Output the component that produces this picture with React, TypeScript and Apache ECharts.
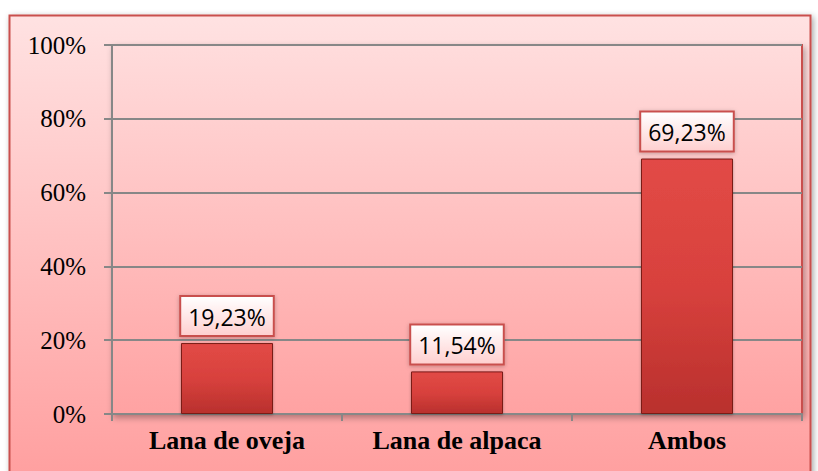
import React, { useEffect, useRef } from "react";
import * as echarts from "echarts";

const categories = ["Lana de oveja", "Lana de alpaca", "Ambos"];
const values = [0.1923, 0.1154, 0.6923];
const yTicks = [0, 0.2, 0.4, 0.6, 0.8, 1];

export default function App() {
  const ref = useRef<HTMLDivElement>(null);
  useEffect(() => {
    const chart = echarts.init(ref.current!, null, { renderer: "svg" });
    chart.setOption({
      animation: false,
      backgroundColor: "#ffffff",
      graphic: [
        {
          type: "rect",
          z: -10,
          shape: { x: 9.5, y: 15.5, width: 801, height: 470 },
          style: {
            fill: new echarts.graphic.LinearGradient(0, 0, 0, 1, [
              { offset: 0, color: "#FFE2E2" },
              { offset: 1, color: "#FF9E9E" },
            ]),
            stroke: "#C9504D",
            lineWidth: 2,
            shadowBlur: 6,
            shadowColor: "rgba(0,0,0,0.35)",
            shadowOffsetX: 2,
            shadowOffsetY: 2,
          },
        },
      ],
      grid: {
        left: 112,
        right: 16,
        top: 45,
        bottom: 57,
        show: true,
        backgroundColor: new echarts.graphic.LinearGradient(0, 0, 0, 1, [
          { offset: 0, color: "#FFDCDC" },
          { offset: 1, color: "#FFA2A2" },
        ]),
        borderColor: "#C9504D",
        borderWidth: 2,
        shadowBlur: 6,
        shadowColor: "rgba(0,0,0,0.3)",
        shadowOffsetX: 2,
        shadowOffsetY: 3,
      },
      xAxis: {
        type: "category",
        data: categories,
        axisLine: { show: true, lineStyle: { color: "#878787", width: 2 } },
        axisTick: { show: true, length: 7, lineStyle: { color: "#878787", width: 2 } },
        axisLabel: {
          fontFamily: "Liberation Serif",
          fontWeight: "bold",
          fontSize: 26,
          color: "#000",
          margin: 13,
        },
      },
      yAxis: {
        type: "value",
        min: 0,
        max: 1,
        interval: 0.2,
        axisLine: { show: true, lineStyle: { color: "#878787", width: 2 } },
        axisTick: { show: true, length: 8, lineStyle: { color: "#878787", width: 2 } },
        splitLine: { show: true, lineStyle: { color: "#878787", width: 2 } },
        axisLabel: {
          fontFamily: "Liberation Serif",
          fontSize: 25,
          color: "#000",
          margin: 26,
          formatter: (v: number) => {
            const t = yTicks.find((x) => Math.abs(x - v) < 1e-9);
            return Math.round((t ?? v) * 100) + "%";
          },
        },
      },
      series: [
        {
          type: "bar",
          data: values,
          barWidth: "40%",
          itemStyle: {
            color: new echarts.graphic.LinearGradient(0, 0, 0, 1, [
              { offset: 0, color: "#E24A46" },
              { offset: 0.5, color: "#D8413D" },
              { offset: 1, color: "#B9302D" },
            ]),
            borderColor: "#7A1A18",
            borderWidth: 1,
            shadowBlur: 3,
            shadowColor: "rgba(0,0,0,0.3)",
            shadowOffsetY: 1,
          },
          label: {
            show: true,
            position: "top",
            distance: 8,
            formatter: (p: any) => (p.value * 100).toFixed(2).replace(".", ",") + "%",
            fontFamily: "Open Sans",
            fontSize: 23,
            lineHeight: 27,
            color: "#000",
            backgroundColor: new echarts.graphic.LinearGradient(0, 0, 0, 1, [
              { offset: 0, color: "#FFFFFF" },
              { offset: 1, color: "#FFD0D0" },
            ]),
            borderColor: "#C9504D",
            borderWidth: 2,
            padding: [6, 7, 5, 7],
            shadowBlur: 4,
            shadowColor: "rgba(0,0,0,0.25)",
            shadowOffsetY: 1,
          },
        },
      ],
    });
    return () => chart.dispose();
  }, []);
  return (
    <div
      ref={ref}
      style={{ position: "fixed", left: 0, top: 0, width: 818, height: 471 }}
    />
  );
}
